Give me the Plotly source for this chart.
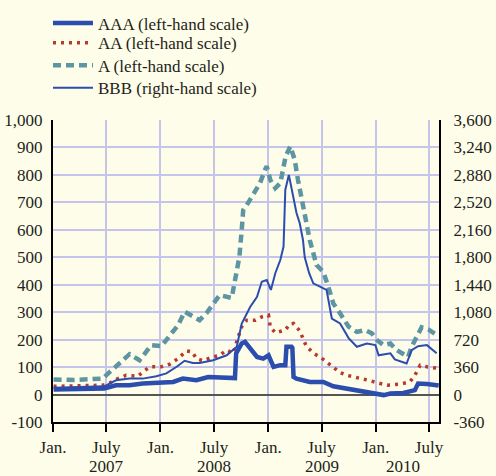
import plotly.graph_objects as go

# ---------------- data ----------------
aaa_dates = ["2007-01-03", "2007-04-10", "2007-06-24", "2007-08-03", "2007-09-18", "2007-11-02",
             "2007-12-29", "2008-02-13", "2008-03-17", "2008-05-02", "2008-06-11", "2008-07-20",
             "2008-09-10", "2008-09-14", "2008-10-03", "2008-10-14", "2008-11-01", "2008-11-24",
             "2008-12-15", "2009-01-02", "2009-01-19", "2009-02-11", "2009-02-28", "2009-03-04",
             "2009-03-21", "2009-03-24", "2009-03-28", "2009-04-07", "2009-05-22", "2009-07-07",
             "2009-08-10", "2009-09-25", "2009-11-20", "2009-12-31", "2010-01-28", "2010-02-20",
             "2010-04-05", "2010-05-14", "2010-05-25", "2010-06-24", "2010-07-27", "2010-08-03"]
aaa_vals = [18, 18, 22, 34, 34, 40,
            42, 46, 58, 52, 64, 62,
            60, 150, 186, 192, 168, 137,
            131, 143, 101, 107, 107, 174,
            174, 170, 64, 58, 46, 46,
            30, 22, 9, 6, -2, 4,
            6, 16, 40, 38, 34, 33]

aa_dates = ["2007-01-03", "2007-04-01", "2007-06-18", "2007-07-10", "2007-08-03", "2007-09-06",
            "2007-10-16", "2007-11-25", "2008-01-04", "2008-02-02", "2008-03-01", "2008-03-29",
            "2008-04-18", "2008-05-02", "2008-05-24", "2008-06-22", "2008-07-20", "2008-08-13",
            "2008-09-04", "2008-09-21", "2008-10-03", "2008-10-20", "2008-11-18", "2008-12-10",
            "2009-01-02", "2009-01-08", "2009-01-25", "2009-02-28", "2009-03-15", "2009-03-28",
            "2009-04-18", "2009-05-11", "2009-06-08", "2009-07-07", "2009-08-10", "2009-09-02",
            "2009-09-25", "2009-10-23", "2009-12-07", "2010-01-17", "2010-02-09", "2010-03-24",
            "2010-04-27", "2010-05-14", "2010-06-01", "2010-06-24", "2010-07-27", "2010-08-03"]
aa_vals = [30, 32, 34, 40, 55, 70,
           67, 101, 101, 111, 131, 159,
           155, 131, 123, 135, 143, 162,
           150, 210, 247, 271, 271, 283,
           289, 247, 225, 235, 257, 259,
           232, 174, 148, 128, 100, 80,
           70, 64, 52, 40, 34, 38,
           46, 70, 107, 101, 95, 95]

a_dates = ["2007-01-03", "2007-03-15", "2007-06-18", "2007-08-03", "2007-09-18", "2007-10-22",
           "2007-12-01", "2008-01-04", "2008-02-02", "2008-03-01", "2008-03-23", "2008-04-15",
           "2008-05-13", "2008-06-05", "2008-06-28", "2008-07-20", "2008-08-30", "2008-09-16",
           "2008-09-25", "2008-10-03", "2008-10-08", "2008-10-20", "2008-11-01", "2008-11-18",
           "2008-12-04", "2008-12-21", "2008-12-27", "2009-01-08", "2009-01-25", "2009-02-11",
           "2009-02-22", "2009-03-01", "2009-03-17", "2009-04-01", "2009-04-12", "2009-04-29",
           "2009-05-11", "2009-05-22", "2009-06-14", "2009-07-07", "2009-07-24", "2009-08-10",
           "2009-09-02", "2009-10-01", "2009-10-29", "2009-11-26", "2009-12-19", "2010-01-06",
           "2010-01-28", "2010-02-20", "2010-03-13", "2010-04-10", "2010-04-21", "2010-05-03",
           "2010-05-20", "2010-06-06", "2010-06-29", "2010-07-27", "2010-08-03"]
a_vals = [55, 53, 58, 101, 147, 125,
          180, 176, 217, 253, 302, 289,
          271, 296, 330, 362, 352, 442,
          502, 600, 672, 690, 710, 740,
          770, 819, 831, 782, 752, 770,
          819, 867, 904, 855, 782, 685,
          624, 563, 472, 447, 393, 332,
          296, 247, 228, 235, 223, 198,
          180, 186, 162, 143, 137, 174,
          210, 245, 237, 216, 212]

bbb_dates = ["2007-01-03", "2007-06-24", "2007-08-03", "2007-09-18", "2007-11-02", "2007-12-18",
             "2008-01-21", "2008-02-25", "2008-03-23", "2008-04-20", "2008-05-13", "2008-06-28",
             "2008-08-13", "2008-09-16", "2008-10-03", "2008-11-01", "2008-11-24", "2008-12-10",
             "2008-12-27", "2009-01-10", "2009-01-25", "2009-02-11", "2009-02-22", "2009-02-28",
             "2009-03-12", "2009-03-26", "2009-04-07", "2009-04-18", "2009-04-29", "2009-05-05",
             "2009-05-20", "2009-06-03", "2009-07-07", "2009-07-18", "2009-08-05", "2009-09-02",
             "2009-10-01", "2009-10-29", "2009-12-02", "2009-12-31", "2010-01-11", "2010-02-20",
             "2010-03-07", "2010-04-16", "2010-05-03", "2010-05-25", "2010-06-24", "2010-07-27"]
bbb_vals = [90, 108, 187, 209, 209, 241,
            277, 364, 443, 414, 415, 450,
            515, 626, 932, 1152, 1282, 1480,
            1501, 1372, 1591, 1764, 1940, 2686,
            2880, 2596, 2380, 2246, 2027, 1800,
            1591, 1458, 1393, 1372, 997, 932,
            740, 626, 670, 648, 515, 540,
            461, 407, 583, 634, 648, 540]

series_names = ["AAA (left-hand scale)", "AA (left-hand scale)", "A (left-hand scale)", "BBB (right-hand scale)"]

x_tickvals = ["2007-01-01", "2007-07-01", "2008-01-01", "2008-07-01",
              "2009-01-01", "2009-07-01", "2010-01-01", "2010-07-01"]
x_ticktext = ["Jan.", "July", "Jan.", "July", "Jan.", "July", "Jan.", "July"]
year_labels = ["2007", "2008", "2009", "2010"]
year_label_dates = ["2007-07-01", "2008-07-01", "2009-07-01", "2010-04-03"]

left_tickvals = [-100, 0, 100, 200, 300, 400, 500, 600, 700, 800, 900, 1000]
left_ticktext = ["-100", "0", "100", "200", "300", "400", "500", "600", "700", "800", "900", "1,000"]
right_tickvals = [-360, 0, 360, 720, 1080, 1440, 1800, 2160, 2520, 2880, 3240, 3600]
right_ticktext = ["-360", "0", "360", "720", "1,080", "1,440", "1,800", "2,160", "2,520", "2,880", "3,240", "3,600"]

# ---------------- styling ----------------
BG = "#FEFDE9"
BLUE = "#2B4DAE"
RED = "#B8392E"
TEAL = "#5D95A3"
GRID = "#C5C5EC"
FONT = "'Liberation Serif', 'DejaVu Serif', 'Times New Roman', serif"
TXT = "#231F20"

fig = go.Figure()
fig.add_trace(go.Scatter(x=a_dates, y=a_vals, name=series_names[2], mode="lines", legend="legend3",
                         line=dict(color=TEAL, width=4.5, dash="8px,5px")))
fig.add_trace(go.Scatter(x=aa_dates, y=aa_vals, name=series_names[1], mode="lines", legend="legend2",
                         line=dict(color=RED, width=3.5, dash="3px,5px")))
fig.add_trace(go.Scatter(x=bbb_dates, y=bbb_vals, name=series_names[3], mode="lines", yaxis="y2",
                         legend="legend4", line=dict(color=BLUE, width=2)))
fig.add_trace(go.Scatter(x=aaa_dates, y=aaa_vals, name=series_names[0], mode="lines", legend="legend",
                         line=dict(color=BLUE, width=4.5)))

for yr, d in zip(year_labels, year_label_dates):
    fig.add_annotation(x=d, y=-0.147, xref="x", yref="paper", text=yr, showarrow=False,
                       xanchor="center", yanchor="middle", font=dict(family=FONT, size=17, color=TXT))


def leg(ypos):
    return dict(x=-0.013, y=ypos, xanchor="left", yanchor="middle", bgcolor="rgba(0,0,0,0)",
                font=dict(family=FONT, size=17, color=TXT), itemwidth=40, borderwidth=0)


fig.update_layout(
    template="none",
    width=496, height=476,
    paper_bgcolor=BG, plot_bgcolor=BG,
    margin=dict(l=53, r=57, t=120, b=54, autoexpand=False),
    font=dict(family=FONT, size=17, color=TXT),
    showlegend=True,
    legend=leg(1.320),
    legend2=leg(1.254),
    legend3=leg(1.180),
    legend4=leg(1.105),
    xaxis=dict(type="date", range=["2007-01-01", "2010-08-04"], automargin=False,
               tickvals=x_tickvals, ticktext=x_ticktext,
               showgrid=True, gridcolor=GRID, gridwidth=1.5,
               showline=True, linecolor="#000000", linewidth=2,
               ticks="outside", ticklen=8, tickwidth=2, tickcolor="#000000",
               ticklabelstandoff=1, zeroline=False),
    yaxis=dict(range=[-100, 1000], tickvals=left_tickvals, ticktext=left_ticktext, automargin=False,
               showgrid=True, gridcolor=GRID, gridwidth=1.5,
               showline=True, linecolor="#000000", linewidth=2, ticks="",
               zeroline=True, zerolinecolor="#555555", zerolinewidth=2,
               ticklabelstandoff=5),
    yaxis2=dict(range=[-360, 3600], tickvals=right_tickvals, ticktext=right_ticktext, automargin=False,
                overlaying="y", side="right", showgrid=False, zeroline=False,
                showline=True, linecolor="#000000", linewidth=2, ticks="",
                ticklabelstandoff=9),
)

fig.write_html("out.html", config={"displayModeBar": False},
               post_script="document.body.style.margin='0';document.body.style.background='%s';" % BG)
